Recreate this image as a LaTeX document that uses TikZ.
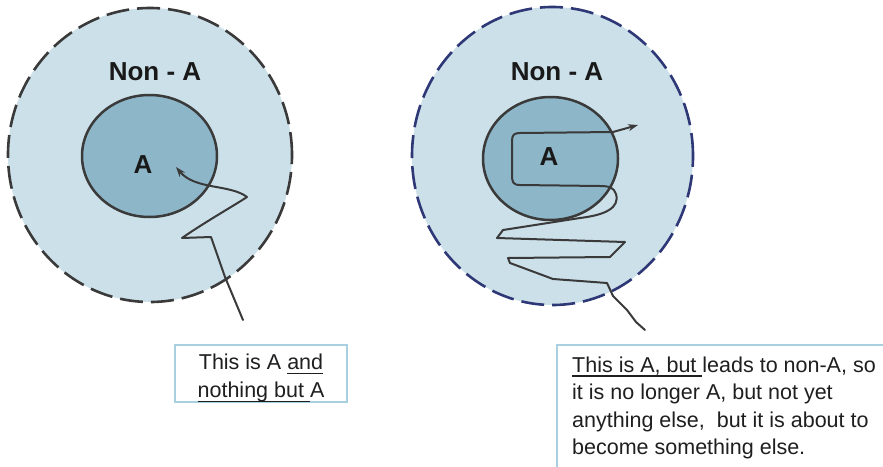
\documentclass[tikz,border=0pt]{standalone}
\usepackage{fontspec}
\setmainfont{Liberation Sans}
\usetikzlibrary{arrows.meta,shapes.geometric}
\definecolor{outerfill}{RGB}{204,224,233}
\definecolor{innerfill}{RGB}{141,183,201}
\definecolor{strokegray}{RGB}{58,58,58}
\definecolor{navydash}{RGB}{46,56,118}
\definecolor{boxblue}{RGB}{168,208,224}
\newsavebox\myulbox
\newcommand\myul[1]{\sbox\myulbox{#1}\rlap{\rule[-4.5pt]{\wd\myulbox}{1.3pt}}\usebox\myulbox}
\begin{document}
\begin{tikzpicture}[x=1pt,y=-1pt,
  outerset/.style={ellipse, fill=outerfill, line width=2.6pt, dash pattern=on 23pt off 8pt, inner sep=0pt},
  innerset/.style={ellipse, fill=innerfill, draw=strokegray, line width=2.5pt, inner sep=0pt},
  biglabel/.style={font=\fontsize{26}{30}\selectfont\bfseries, text=black!90, inner sep=0pt},
  journey/.style={draw=strokegray, line width=2pt, line join=round, line cap=round},
  notebox/.style={draw=boxblue, line width=1.4pt, fill=white},
  notetext/.style={font=\fontsize{21.5}{27.6}\selectfont, text=black!88, inner sep=0pt}
]
\useasboundingbox (0,0) rectangle (883,466);
\clip (0,0) rectangle (883,466);
% left diagram
\node[outerset, draw=strokegray, minimum width=284pt, minimum height=294pt] (outerL) at (150,155) {};
\node[innerset, minimum width=135pt, minimum height=122pt] (innerL) at (149.5,156) {};
\node[biglabel] (nonAL) at (155,72) {Non - A};
\node[biglabel] (AL) at (143,165) {A};
\coordinate (startL) at (243,320);
\coordinate (tipL) at (176,167);
\draw[journey, -{Stealth[length=10pt,width=7pt]}] (startL) -- (225,277) -- (211,237) -- (182,238)
  .. controls (205,222) and (235,205) .. (247,197)
  .. controls (230,184) and (195,190) .. (tipL);
% right diagram
\node[outerset, draw=navydash, minimum width=281pt, minimum height=298pt] (outerR) at (552.5,156) {};
\node[innerset, minimum width=135pt, minimum height=123pt] (innerR) at (550.5,158.5) {};
\node[biglabel] (nonAR) at (557,72) {Non - A};
\node[biglabel] (AR) at (549,157) {A};
\coordinate (startR) at (645,330);
\coordinate (tipR) at (638,125);
\draw[journey, -{Stealth[length=10pt,width=7pt]}] (startR) -- (636,322) -- (627,310) -- (620,303) -- (613,296) -- (607,283)
  -- (553,279) -- (510,263) -- (508,258) -- (610,257) -- (625,242) -- (497,238)
  -- (503,230) -- (580,218) .. controls (605,215) and (620,208) .. (616,194)
  .. controls (614,188) and (610,186) .. (600,186) -- (520,185)
  .. controls (513,185) and (512,182) .. (512,175) -- (512,141)
  .. controls (512,135) and (514,133) .. (520,133) -- (613,132) -- (tipR);
% note boxes
\node[notebox, minimum width=172pt, minimum height=57pt] (boxL) at (261,373.5) {};
\node[notetext, align=center] (textL) at (261,378) {This is A \myul{and}\\\myul{nothing but }A};
\node[notebox, minimum width=340pt, minimum height=140pt] (boxR) at (727,415) {};
\node[notetext, align=left, anchor=west] (textR) at (572,408) {\myul{This is A, but }leads to non-A, so\\it is no longer A, but not yet\\anything else,\ \ but it is about to\\become something else.};
\end{tikzpicture}
\end{document}
